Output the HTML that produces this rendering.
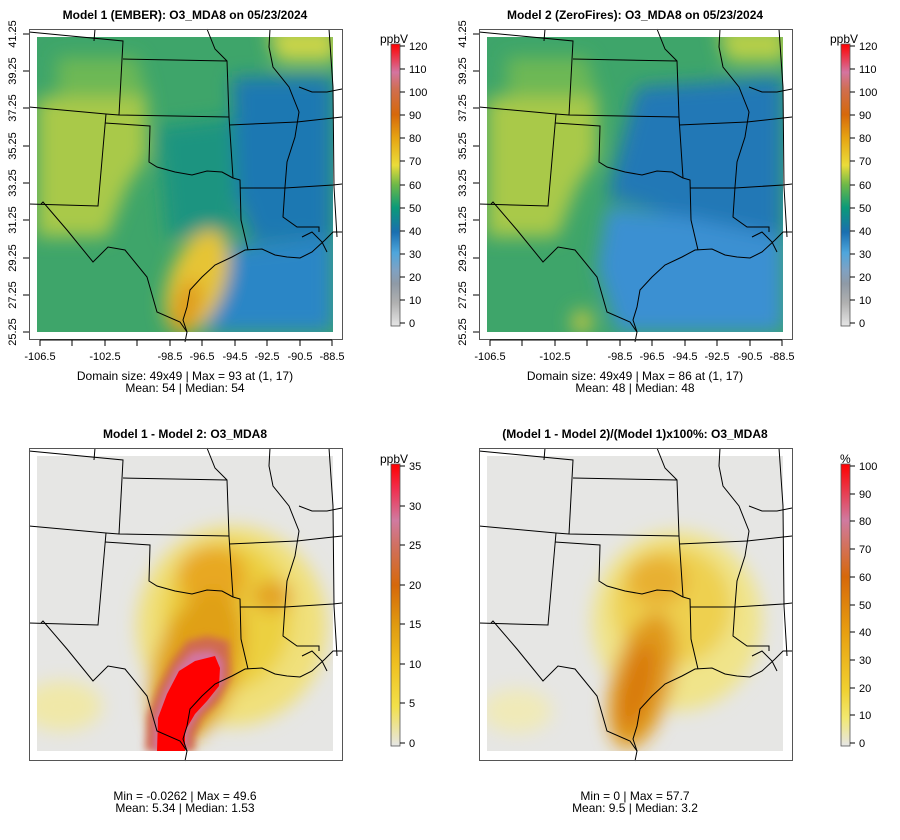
<!DOCTYPE html>
<html><head><meta charset="utf-8"><style>body{margin:0;background:#fff}svg{display:block;font-family:"Liberation Sans",sans-serif}</style></head><body>
<svg width="900" height="840" viewBox="0 0 900 840" xmlns="http://www.w3.org/2000/svg">
<defs>
<filter id="b" x="-20%" y="-20%" width="140%" height="140%"><feGaussianBlur stdDeviation="9"/></filter>
<filter id="s" x="-20%" y="-20%" width="140%" height="140%"><feGaussianBlur stdDeviation="4"/></filter>
<clipPath id="c"><rect x="0" y="0" width="296" height="295"/></clipPath>
<g id="borders" fill="none" stroke="#000" stroke-width="1">
<polyline points="-8,-5 86,4 82,78"/>
<line x1="58" y1="-8" x2="57" y2="4"/>
<polyline points="86,22 190,24"/>
<polyline points="-8,70 69,77 82,78 192,80"/>
<polyline points="69,77 61,169 -8,167"/>
<polyline points="68,86 113,89 112,125 120,130 138,135 155,138 170,134 185,135 196,141"/>
<polyline points="170,-8 178,12 190,24 192,80 196,141 203,143 204,183 211,213"/>
<polyline points="192,88 260,85"/>
<polyline points="203,151 248,151"/>
<polyline points="233,-8 232,10 236,30 252,50 262,75 258,100 250,125 248,150 246,180 260,190 282,190 282,195"/>
<polyline points="248,151 296,148 305,147"/>
<polyline points="260,85 305,80"/>
<polyline points="262,50 275,55 290,55 305,52"/>
<polyline points="292,-8 296,50 297,150 300,200"/>
<polyline points="4,167 6,165 30,193 56,225 71,210 88,213 110,240 120,275 143,285 150,295 148,305"/>
<polyline points="150,295 146,283 150,270 153,253 165,240 178,228 195,220 208,213 225,212 238,218 250,220 263,221 275,215 288,203 296,195 305,195"/>
<polyline points="265,200 275,195 285,205 290,215"/>
</g>
<linearGradient id="g1" x1="0" y1="1" x2="0" y2="0">
<stop offset="0" stop-color="#e6e6e6"/><stop offset=".083" stop-color="#b0b0b0"/><stop offset=".15" stop-color="#8f9aa6"/><stop offset=".2" stop-color="#7ea2c4"/><stop offset=".26" stop-color="#4ea6dc"/><stop offset=".333" stop-color="#1a6fb0"/><stop offset=".42" stop-color="#0b9a78"/><stop offset=".5" stop-color="#6cb848"/><stop offset=".57" stop-color="#eadc3a"/><stop offset=".667" stop-color="#e6a412"/><stop offset=".75" stop-color="#d6680a"/><stop offset=".84" stop-color="#d06e50"/><stop offset=".9" stop-color="#d474a0"/><stop offset="1" stop-color="#ff0000"/></linearGradient>
<linearGradient id="g3" x1="0" y1="1" x2="0" y2="0">
<stop offset="0" stop-color="#e6e6e6"/><stop offset=".14" stop-color="#f2e04a"/><stop offset=".29" stop-color="#efc020"/><stop offset=".43" stop-color="#e09a10"/><stop offset=".57" stop-color="#d6680a"/><stop offset=".71" stop-color="#d07060"/><stop offset=".8" stop-color="#d07aa0"/><stop offset=".91" stop-color="#f03050"/><stop offset="1" stop-color="#ff0000"/></linearGradient>
<linearGradient id="g4" x1="0" y1="1" x2="0" y2="0">
<stop offset="0" stop-color="#e6e6e6"/><stop offset=".1" stop-color="#f2e870"/><stop offset=".2" stop-color="#f0d030"/><stop offset=".4" stop-color="#e8a010"/><stop offset=".6" stop-color="#d6680a"/><stop offset=".8" stop-color="#d07aa0"/><stop offset="1" stop-color="#ff0000"/></linearGradient>
</defs>
<g font-size="12" font-weight="bold" text-anchor="middle">
<text x="185" y="19">Model 1 (EMBER): O3_MDA8 on 05/23/2024</text>
<text x="635" y="19">Model 2 (ZeroFires): O3_MDA8 on 05/23/2024</text>
<text x="185" y="438">Model 1 - Model 2: O3_MDA8</text>
<text x="635" y="438">(Model 1 - Model 2)/(Model 1)x100%: O3_MDA8</text>
</g>
<!-- Panel 1 -->
<g transform="translate(37,37)">
<g clip-path="url(#c)"><rect width="296" height="295" fill="#3ea56a"/>
<g filter="url(#b)">
<polygon points="0,60 110,60 110,120 90,150 70,200 0,200" fill="#a9c94a"/>
<polygon points="20,20 100,20 110,60 20,60" fill="#6db854"/>
<polygon points="120,90 200,80 200,200 130,200" fill="#1f9480"/>
<polygon points="195,40 296,40 296,200 215,205 200,160" fill="#1d78b2"/>
<polygon points="190,210 296,200 296,295 170,295 165,255" fill="#2b86c6"/>
<polygon points="230,-10 300,-10 300,25 240,25" fill="#c9d448"/>
<ellipse cx="160" cy="245" rx="28" ry="55" fill="#e6c434" transform="rotate(20 160 245)"/>
<ellipse cx="150" cy="270" rx="13" ry="28" fill="#df9a1a" transform="rotate(15 150 270)"/>
</g></g>
<use href="#borders"/>
</g>
<!-- Panel 2 -->
<g transform="translate(487,37)">
<g clip-path="url(#c)"><rect width="296" height="295" fill="#3ea56a"/>
<g filter="url(#b)">
<polygon points="0,60 110,60 110,120 90,150 70,200 0,200" fill="#a9c94a"/>
<polygon points="20,20 100,20 110,60 20,60" fill="#6db854"/>
<polygon points="150,50 296,40 296,200 220,210 190,180 120,160" fill="#2078b6"/>
<polygon points="120,170 200,180 296,200 296,295 130,295 110,230" fill="#3a90d2"/>
<polygon points="230,-10 300,-10 300,25 240,25" fill="#b6cf4a"/>
<ellipse cx="95" cy="285" rx="10" ry="12" fill="#c8c840"/>
</g></g>
<use href="#borders"/>
</g>
<!-- Panel 3 -->
<g transform="translate(37,456)">
<g clip-path="url(#c)"><rect width="296" height="295" fill="#e6e6e4"/>
<g filter="url(#b)">
<ellipse cx="195" cy="170" rx="95" ry="100" fill="#f0e07a"/>
<ellipse cx="190" cy="160" rx="65" ry="75" fill="#ecd040"/>
<ellipse cx="175" cy="120" rx="35" ry="30" fill="#e8a820"/>
<ellipse cx="235" cy="140" rx="20" ry="15" fill="#e3a020"/>
<ellipse cx="160" cy="210" rx="42" ry="80" fill="#e0a018" transform="rotate(18 160 210)"/>
<ellipse cx="25" cy="250" rx="40" ry="25" fill="#f0e8a8"/>
</g>
<polygon points="108,295 110,260 122,230 135,205 150,185 170,180 192,185 194,220 182,245 165,262 158,280 158,295" fill="#d06a50" filter="url(#s)"/>
<polygon points="116,295 118,262 128,235 140,212 155,196 175,194 186,205 186,225 172,245 160,258 150,275 150,295" fill="#d474a0" filter="url(#s)"/>
<polygon points="120,295 121,262 130,238 142,215 158,205 178,200 183,212 182,230 170,245 158,258 148,275 148,295" fill="#ff0000"/>
</g>
<use href="#borders"/>
</g>
<!-- Panel 4 -->
<g transform="translate(487,456)">
<g clip-path="url(#c)"><rect width="296" height="295" fill="#e6e6e4"/>
<g filter="url(#b)">
<ellipse cx="190" cy="165" rx="85" ry="90" fill="#f0e48a"/>
<ellipse cx="185" cy="150" rx="60" ry="60" fill="#eed050"/>
<ellipse cx="170" cy="125" rx="30" ry="25" fill="#e8b030"/>
<ellipse cx="155" cy="225" rx="30" ry="70" fill="#e09a1a" transform="rotate(15 155 225)"/>
<ellipse cx="150" cy="230" rx="14" ry="45" fill="#d8780e" transform="rotate(15 150 230)"/>
<ellipse cx="30" cy="255" rx="35" ry="22" fill="#f0eab8"/>
</g></g>
<use href="#borders"/>
</g>
<g fill="none" stroke="#555" stroke-width="1">
<rect x="29.5" y="29.5" width="313" height="310"/>
<rect x="479.5" y="29.5" width="313" height="310"/>
<rect x="29.5" y="448.5" width="313" height="312"/>
<rect x="479.5" y="448.5" width="313" height="312"/>
</g>
<g id="ax" font-size="11" fill="#000" stroke="none">
<g stroke="#000"><line x1="40" y1="340" x2="332" y2="340"/>
<path d="M40 340v6M72 340v6M105 340v6M137 340v6M170 340v6M202 340v6M235 340v6M267 340v6M300 340v6M332 340v6"/>
<path d="M23 34h6M23 71h6M23 108h6M23 146h6M23 183h6M23 220h6M23 258h6M23 295h6M23 332h6"/></g>
<g text-anchor="middle"><text x="40" y="360">-106.5</text><text x="105" y="360">-102.5</text><text x="170" y="360">-98.5</text><text x="202" y="360">-96.5</text><text x="235" y="360">-94.5</text><text x="267" y="360">-92.5</text><text x="300" y="360">-90.5</text><text x="332" y="360">-88.5</text></g>
<g text-anchor="middle">
<text transform="translate(16,34) rotate(-90)">41.25</text><text transform="translate(16,71) rotate(-90)">39.25</text><text transform="translate(16,108) rotate(-90)">37.25</text><text transform="translate(16,146) rotate(-90)">35.25</text><text transform="translate(16,183) rotate(-90)">33.25</text><text transform="translate(16,220) rotate(-90)">31.25</text><text transform="translate(16,258) rotate(-90)">29.25</text><text transform="translate(16,295) rotate(-90)">27.25</text><text transform="translate(16,332) rotate(-90)">25.25</text></g>
</g>
<use href="#ax" x="450"/>
<g font-size="12" text-anchor="middle">
<text x="185" y="380">Domain size: 49x49 | Max = 93 at (1, 17)</text>
<text x="185" y="392">Mean: 54 |  Median: 54</text>
<text x="635" y="380">Domain size: 49x49 | Max = 86 at (1, 17)</text>
<text x="635" y="392">Mean: 48 |  Median: 48</text>
<text x="185" y="800">Min = -0.0262 | Max = 49.6</text>
<text x="185" y="812">Mean: 5.34 |  Median: 1.53</text>
<text x="635" y="800">Min = 0 | Max = 57.7</text>
<text x="635" y="812">Mean: 9.5 |  Median: 3.2</text>
</g>
<g id="cb1">
<rect x="391" y="44" width="9" height="282" fill="url(#g1)" stroke="#555" stroke-width=".8"/>
<g stroke="#000"><path d="M400 46h5M400 69h5M400 92h5M400 115h5M400 138h5M400 161h5M400 185h5M400 208h5M400 231h5M400 254h5M400 277h5M400 300h5M400 323h5"/></g>
<g font-size="11"><text x="409" y="50">120</text><text x="409" y="73">110</text><text x="409" y="96">100</text><text x="409" y="119">90</text><text x="409" y="142">80</text><text x="409" y="165">70</text><text x="409" y="189">60</text><text x="409" y="212">50</text><text x="409" y="235">40</text><text x="409" y="258">30</text><text x="409" y="281">20</text><text x="409" y="304">10</text><text x="409" y="327">0</text></g>
<text x="380" y="43" font-size="12">ppbV</text>
</g>
<use href="#cb1" x="450"/>
<g>
<rect x="391" y="464" width="9" height="282" fill="url(#g3)" stroke="#555" stroke-width=".8"/>
<g stroke="#000"><path d="M400 466h5M400 506h5M400 545h5M400 585h5M400 624h5M400 664h5M400 703h5M400 743h5"/></g>
<g font-size="11"><text x="409" y="470">35</text><text x="409" y="510">30</text><text x="409" y="549">25</text><text x="409" y="589">20</text><text x="409" y="628">15</text><text x="409" y="668">10</text><text x="409" y="707">5</text><text x="409" y="747">0</text></g>
<text x="380" y="463" font-size="12">ppbV</text>
</g>
<g>
<rect x="841" y="464" width="9" height="282" fill="url(#g4)" stroke="#555" stroke-width=".8"/>
<g stroke="#000"><path d="M850 466h5M850 494h5M850 521h5M850 549h5M850 577h5M850 605h5M850 632h5M850 660h5M850 688h5M850 715h5M850 743h5"/></g>
<g font-size="11"><text x="859" y="470">100</text><text x="859" y="498">90</text><text x="859" y="525">80</text><text x="859" y="553">70</text><text x="859" y="581">60</text><text x="859" y="609">50</text><text x="859" y="636">40</text><text x="859" y="664">30</text><text x="859" y="692">20</text><text x="859" y="719">10</text><text x="859" y="747">0</text></g>
<text x="840" y="463" font-size="12">%</text>
</g>
</svg>
</body></html>
